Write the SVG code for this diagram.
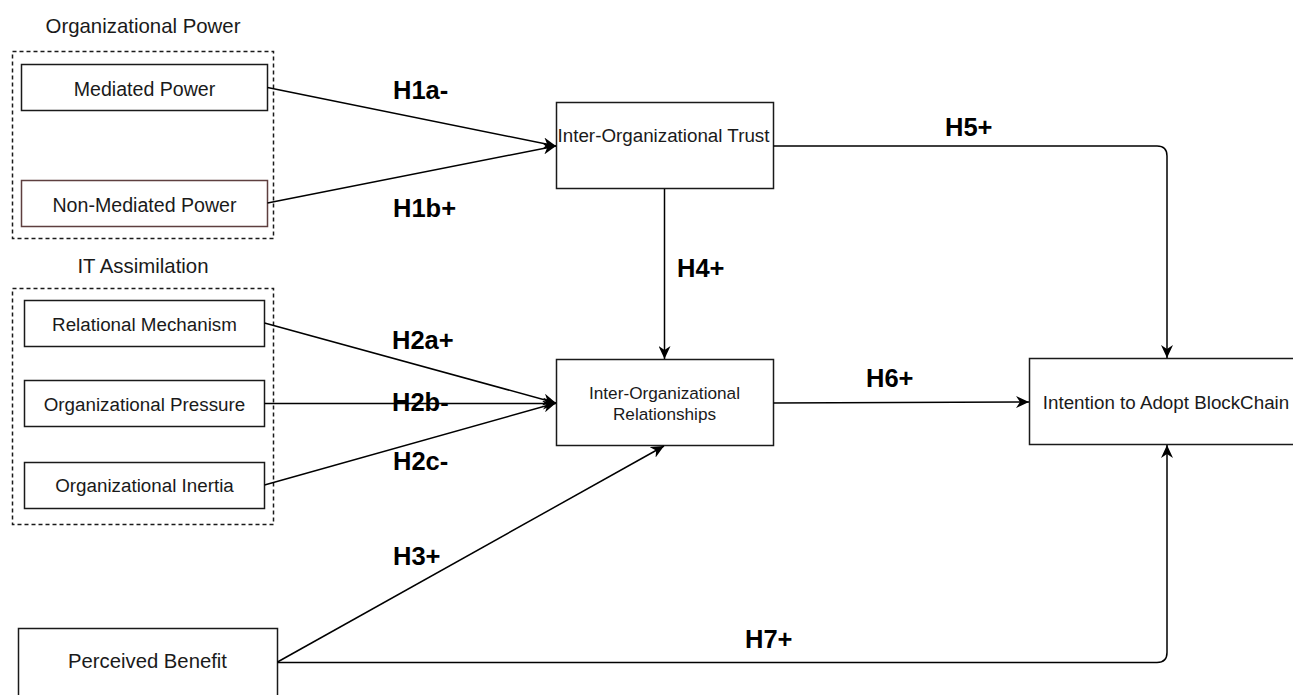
<svg xmlns="http://www.w3.org/2000/svg" width="1293" height="695" viewBox="0 0 1293 695">
<style>
  .box { fill: #ffffff; stroke: #1a1a1a; stroke-width: 1.5; }
  .group { fill: none; stroke: #1a1a1a; stroke-width: 1.5; stroke-dasharray: 4 3; }
  .t { font-family: "Liberation Sans", Arial, sans-serif; font-size: 18.8px; fill: #1a1a1a; text-anchor: middle; }
  .title { font-family: "Liberation Sans", Arial, sans-serif; font-size: 20.4px; fill: #1a1a1a; text-anchor: middle; }
  .h { font-family: "Liberation Sans", Arial, sans-serif; font-size: 25.5px; font-weight: bold; fill: #000000; }
  .edge { fill: none; stroke: #000000; stroke-width: 1.5; }
</style>
<defs>
  <marker id="arrow" markerUnits="userSpaceOnUse" markerWidth="14" markerHeight="12" viewBox="0 0 14 12" refX="13" refY="6" orient="auto">
    <path d="M0,0 L13,6 L0,12 L4,6 z" fill="#000000"/>
  </marker>
</defs>
<rect width="1293" height="695" fill="#ffffff"/>

<g id="org-power-group">
  <text class="title" x="143" y="33">Organizational Power</text>
  <rect class="group" x="12.5" y="51.5" width="261" height="187"/>
</g>
<g id="mediated-power">
  <rect class="box" x="21.5" y="64.5" width="246" height="46"/>
  <text class="t" x="144.5" y="96" style="font-size:19.6px">Mediated Power</text>
</g>
<g id="non-mediated-power">
  <rect class="box" x="21.5" y="180.5" width="246" height="46" style="stroke:#5e3f3f"/>
  <text class="t" x="144.5" y="212" style="font-size:19.6px">Non-Mediated Power</text>
</g>

<g id="it-assimilation-group">
  <text class="title" x="143" y="273">IT Assimilation</text>
  <rect class="group" x="12.5" y="288.5" width="261" height="236"/>
</g>
<g id="relational-mechanism">
  <rect class="box" x="24.5" y="300.5" width="240" height="46"/>
  <text class="t" x="144.5" y="331">Relational Mechanism</text>
</g>
<g id="organizational-pressure">
  <rect class="box" x="24.5" y="380.5" width="240" height="46"/>
  <text class="t" x="144.5" y="411">Organizational Pressure</text>
</g>
<g id="organizational-inertia">
  <rect class="box" x="24.5" y="462.5" width="240" height="46"/>
  <text class="t" x="144.5" y="492">Organizational Inertia</text>
</g>

<g id="perceived-benefit">
  <rect class="box" x="18.5" y="628.5" width="259" height="72"/>
  <text class="t" x="147.5" y="668" style="font-size:20.3px">Perceived Benefit</text>
</g>

<g id="inter-org-trust">
  <rect class="box" x="556.5" y="102.5" width="217" height="86"/>
  <text class="t" x="663.5" y="142">Inter-Organizational Trust</text>
</g>

<g id="inter-org-relationships">
  <rect class="box" x="556.5" y="359.5" width="217" height="86"/>
  <text class="t" x="664.5" y="399" style="font-size:17.2px">Inter-Organizational</text>
  <text class="t" x="664.5" y="420" style="font-size:17.2px">Relationships</text>
</g>

<g id="intention-to-adopt">
  <rect class="box" x="1029.5" y="358.5" width="276" height="86"/>
  <text class="t" x="1166" y="409">Intention to Adopt BlockChain</text>
</g>

<g id="connectors">
  <line class="edge" x1="267.5" y1="87.5" x2="556" y2="146" marker-end="url(#arrow)"/>
  <line class="edge" x1="267.5" y1="203" x2="556" y2="146" marker-end="url(#arrow)"/>
  <line class="edge" x1="264.5" y1="323" x2="556" y2="403" marker-end="url(#arrow)"/>
  <line class="edge" x1="264.5" y1="403.5" x2="556" y2="403.5" marker-end="url(#arrow)"/>
  <line class="edge" x1="264.5" y1="485" x2="556" y2="403" marker-end="url(#arrow)"/>
  <line class="edge" x1="664.5" y1="189" x2="664.5" y2="359" marker-end="url(#arrow)"/>
  <path class="edge" d="M773.5,146 L1157,146 Q1167,146 1167,156 L1167,358" marker-end="url(#arrow)"/>
  <line class="edge" x1="773.5" y1="403" x2="1029" y2="402" marker-end="url(#arrow)"/>
  <line class="edge" x1="277.5" y1="662" x2="664" y2="446" marker-end="url(#arrow)"/>
  <path class="edge" d="M277.5,662.5 L1157,662.5 Q1167,662.5 1167,652.5 L1167,445" marker-end="url(#arrow)"/>
</g>

<g id="labels">
  <text class="h" x="393" y="99">H1a-</text>
  <text class="h" x="393" y="217">H1b+</text>
  <text class="h" x="392" y="349">H2a+</text>
  <text class="h" x="392" y="411">H2b-</text>
  <text class="h" x="393" y="470">H2c-</text>
  <text class="h" x="393" y="565">H3+</text>
  <text class="h" x="677" y="277">H4+</text>
  <text class="h" x="945" y="136">H5+</text>
  <text class="h" x="866" y="387">H6+</text>
  <text class="h" x="745" y="648">H7+</text>
</g>
</svg>
